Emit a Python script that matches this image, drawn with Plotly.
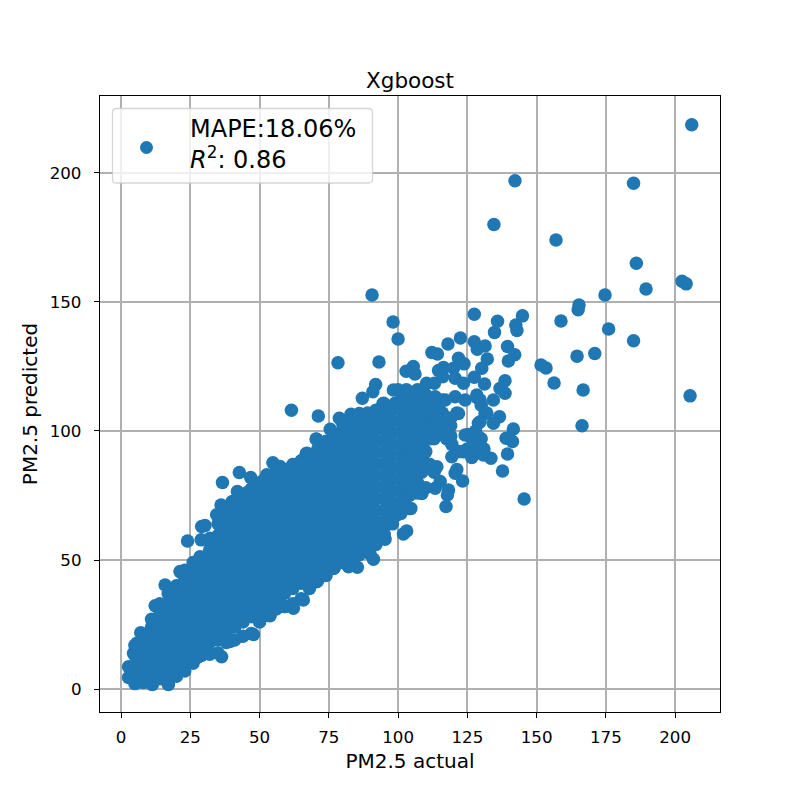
import plotly.graph_objects as go

# Isolated observations, mostly away from the dense band
sparse_actual = [
    206, 142.2, 185, 134.6, 157, 186, 189.5, 202.5, 204, 174.7, 165.3, 165, 158.8, 176, 185,
    164.6, 171, 151.6, 153.4, 156.3, 166.8, 205.4, 166.4, 145.5, 90.6, 98.2, 100, 78.3, 93.1,
    127.5, 135.9, 144.9, 142.5, 142.9, 134.8, 122.5, 118, 127.5, 128.6, 131.4, 139.5, 142.1,
    139.8, 132.2, 130.2, 127.5, 131.2, 138.6, 136.8, 138.6, 134.4, 136.6, 134.4, 141.6, 139,
    141.3, 139.5, 137.7, 133.5, 130.8, 126.6, 123.3, 120.6, 121.2, 118.2, 117.8, 117.3, 119.4,
    119.4, 121.8, 121.2, 124.2, 112.2, 114.2, 105.5, 102.9, 106.1, 121.8, 123.8, 116.4, 114.6,
    120, 116.1, 120.6, 110.3, 113.1, 123.6, 91.9, 90.9, 87.1, 94.5, 61.5, 71.2, 78.8, 75.5,
    70.6, 73.9, 67, 101.9, 103.1, 91.1, 89.9, 85.3, 82.1, 76.7, 95.3, 94.7, 104.6, 99.5, 113.4,
    115.2, 108.6, 103.1, 128.5, 130, 132, 129, 128, 126, 130, 127.5, 131, 129, 125, 122,
    113.4, 117, 120.6, 124.2, 128.4, 129.6, 108, 103, 100,
    2.7, 2.7, 5, 11.3, 17.1, 22.3, 27.5, 36.3, 39.3, 47.8, 53.8, 62.2, 65.8, 70.6, 76.7,
    7.1, 5.7, 4.5, 12.3, 15.9, 21.3, 24, 28.5, 30.3, 29.1, 28.9, 32.1, 36.6, 42.7, 46.8, 42,
    45.4, 36.1, 34.5, 40, 54.8, 61, 52.6, 67,
    98.3, 106.7, 94.8, 98.9, 131.4, 115.8, 129.6, 125.4, 129.6, 127.2, 123.6, 130.2, 114, 87.4, 91,
    80, 83, 86, 89, 92, 96, 85, 88, 70.4, 74.2, 66.8, 57.4, 50.8, 59.2, 100.7,
]
sparse_predicted = [
    218.7, 197, 196, 180, 174, 165, 155, 158, 157, 152.7, 148.8, 147, 142.6, 139.5, 135,
    129, 130, 125.6, 124.4, 118.6, 115.9, 113.6, 102, 73.6, 152.7, 142.2, 135.6, 126.4, 126.7,
    145.2, 142.5, 144.6, 141.1, 138.9, 138.2, 136, 133.7, 134.6, 131.7, 132.9, 132.7, 129.5,
    127.1, 127.9, 124.3, 120.8, 118.2, 119.5, 116.5, 114.6, 112, 105.5, 103, 100.8, 97.2,
    95.9, 91.1, 84.5, 89.4, 90.7, 89.7, 80.6, 83.6, 85.1, 77.1, 75.2, 70.7, 94.8,
    90, 106.8, 107, 98.4, 130.4, 129.8, 125, 123.1, 122.1, 128.2, 126, 124.6, 123.4,
    124.3, 121, 120.4, 118.5, 118.5, 118.5, 118, 115.2, 112.7, 110.5, 108, 105.8, 104.9, 100.7,
    96.8, 94.6, 91.4, 60.1, 61.2, 50.3, 52.3, 47.2, 47.4, 46.8, 58, 62.3, 70, 67.4, 77.8,
    80.4, 75.8, 75.2, 113, 110, 107, 103, 100, 98, 97, 95, 93, 92, 93, 92,
    113.3, 112, 113.3, 112, 113.9, 112, 113.3, 116, 116,
    8.6, 4.5, 2.1, 1.8, 1.8, 7.4, 12.2, 12.5, 18.4, 21.1, 28.4, 31.3, 34.5, 41.6, 46.8,
    21.8, 17.7, 13.9, 32.3, 40.3, 45.5, 57.4, 51.3, 63.4, 63, 57.8, 58.4, 80, 83.9, 82, 76.5,
    76.1, 71.3, 67.5, 72.6, 87.7, 85.5, 83, 90.7,
    115.9, 113.3, 110.7, 110.7, 106.8, 106.9, 103.6, 98.6, 97.2, 94.5, 91.9, 93.3, 86.1, 54.4, 57,
    103, 106.5, 106.8, 107, 108, 109, 104, 104.5, 96.9, 94.6, 91.1, 86.2, 80.4, 32, 70,
]

# Dense band: one actual value per column, with its predicted values
band_actual = [
    5, 8, 11, 14, 17, 20, 23, 26, 29, 32, 35, 38, 41, 44, 47, 50, 53, 56, 59, 62, 65, 68, 71,
    74, 77, 80, 83, 86, 89, 92, 95, 98, 101, 102.5, 104, 105.5, 107, 108.5, 110, 111.5, 113,
    114.5, 116, 117.5, 119,
]
band_predicted = [
    [4.5, 9, 13, 17],
    [2.5, 7, 11.5, 16, 20.5],
    [2, 6, 10.5, 15, 19.5, 24, 27],
    [4, 8, 12.5, 17, 21.5, 26, 30.5, 33],
    [2, 6, 10.5, 15, 19.5, 24, 28.5, 33, 37],
    [5, 9, 13.5, 18, 22.5, 27, 31.5, 36, 40],
    [7, 11, 15.5, 20, 24.5, 29, 33.5, 38, 42.5, 46],
    [10, 13, 17.5, 22, 26.5, 31, 35.5, 40, 44.5, 49],
    [13, 16, 20.5, 25, 29.5, 34, 38.5, 43, 47.5, 51],
    [13.5, 18, 22.5, 27, 31.5, 36, 40.5, 45, 49.5, 54, 58],
    [14, 19, 23.5, 28, 32.5, 37, 41.5, 46, 50.5, 55, 59.5, 64],
    [18, 21, 25.5, 30, 34.5, 39, 43.5, 48, 52.5, 57, 61.5, 66, 69],
    [19, 24, 28.5, 33, 37.5, 42, 46.5, 51, 55.5, 60, 64.5, 69, 73],
    [20.5, 26, 30.5, 35, 39.5, 44, 48.5, 53, 57.5, 62, 66.5, 71, 75],
    [21.5, 28, 32.5, 37, 41.5, 46, 50.5, 55, 59.5, 64, 68.5, 73, 77.5],
    [26, 30, 34.5, 39, 43.5, 48, 52.5, 57, 61.5, 66, 70.5, 75, 79.5],
    [28.5, 33, 37.5, 42, 46.5, 51, 55.5, 60, 64.5, 69, 73.5, 78, 82.5],
    [31, 35, 39.5, 44, 48.5, 53, 57.5, 62, 66.5, 71, 75.5, 80, 84],
    [32, 37, 41.5, 46, 50.5, 55, 59.5, 64, 68.5, 73, 77.5, 82, 85],
    [33, 39, 43.5, 48, 52.5, 57, 61.5, 66, 70.5, 75, 79.5, 84, 87],
    [35, 41, 45.5, 50, 54.5, 59, 63.5, 68, 72.5, 77, 81.5, 86, 88.5],
    [39, 43, 47.5, 52, 56.5, 61, 65.5, 70, 74.5, 79, 83.5, 88, 91],
    [42, 45, 49.5, 54, 58.5, 63, 67.5, 72, 76.5, 81, 85.5, 90, 93],
    [44, 48, 52.5, 57, 61.5, 66, 70.5, 75, 79.5, 84, 88.5, 93, 96],
    [47, 50, 54.5, 59, 63.5, 68, 72.5, 77, 81.5, 86, 90.5, 95, 98],
    [49, 52, 56.5, 61, 65.5, 70, 74.5, 79, 83.5, 88, 92.5, 97, 100.5],
    [50, 54, 58.5, 63, 67.5, 72, 76.5, 81, 85.5, 90, 94.5, 99, 103],
    [52, 56, 60.5, 65, 69.5, 74, 78.5, 83, 87.5, 92, 96.5, 101, 104.5],
    [54, 58, 62.5, 67, 71.5, 76, 80.5, 85, 89.5, 94, 98.5, 103],
    [56, 60, 64.5, 69, 73.5, 78, 82.5, 87, 91.5, 96, 100.5, 104],
    [60, 65, 69.5, 74, 78.5, 83, 87.5, 92, 96.5, 101, 105],
    [64, 68, 72.5, 77, 81.5, 86, 90.5, 95, 99.5, 104, 108],
    [68, 72, 76.5, 81, 85.5, 90, 94.5, 99, 103.5, 108, 112],
    [74, 80, 85, 90, 95, 100, 105, 110],
    [70, 75, 79.5, 84, 88.5, 93, 97.5, 102, 106.5, 111, 115],
    [76, 82, 87, 92, 97, 102, 107, 112],
    [76, 80, 84.5, 89, 93.5, 98, 102.5, 107, 111, 116],
    [78, 84, 89, 94, 99, 104, 109, 113],
    [78, 87.5, 92, 96.5, 101, 105.5, 110, 114],
    [87, 97, 102, 107, 111],
    [84, 97, 101.5, 106, 110],
    [100, 105, 109],
    [98.5, 103, 107, 112],
    [97, 101, 105],
    [98, 102, 105],
]

actual = list(sparse_actual)
predicted = list(sparse_predicted)
for column, rows in zip(band_actual, band_predicted):
    actual.extend([column] * len(rows))
    predicted.extend(rows)

x_ticks = [0, 25, 50, 75, 100, 125, 150, 175, 200]
y_ticks = [0, 50, 100, 150, 200]
BLUE = "#1f77b4"
FONT = "DejaVu Sans"

# Plot-area frame in page pixels, used to place the legend box
LEFT, RIGHT, TOP, BOTTOM = 100, 720, 96, 712


def px_x(px):
    return (px - LEFT) / (RIGHT - LEFT)


def px_y(py):
    return (BOTTOM - py) / (BOTTOM - TOP)


def rounded_box(x0, y0, x1, y1, r):
    pts = [
        ("M", x0 + r, y0), ("L", x1 - r, y0), ("Q", x1, y0, x1, y0 + r),
        ("L", x1, y1 - r), ("Q", x1, y1, x1 - r, y1), ("L", x0 + r, y1),
        ("Q", x0, y1, x0, y1 - r), ("L", x0, y0 + r), ("Q", x0, y0, x0 + r, y0),
    ]
    parts = []
    for p in pts:
        coords = p[1:]
        pairs = [
            f"{px_x(coords[i]):.5f},{px_y(coords[i + 1]):.5f}" for i in range(0, len(coords), 2)
        ]
        parts.append(p[0] + " ".join(pairs))
    return " ".join(parts) + " Z"


fig = go.Figure(
    go.Scatter(
        x=actual,
        y=predicted,
        mode="markers",
        marker=dict(color=BLUE, size=13.5, line=dict(width=0)),
        showlegend=False,
    )
)


def axis(title, ticks, rng, label_gap, title_gap):
    return dict(
        title=dict(text=title, font=dict(family=FONT, size=20, color="black"), standoff=title_gap),
        range=rng,
        tickvals=ticks,
        ticks="outside",
        ticklen=5,
        tickwidth=1.3,
        tickcolor="black",
        ticklabelstandoff=label_gap,
        tickfont=dict(family=FONT, size=16.7, color="black"),
        showgrid=True,
        gridcolor="#b0b0b0",
        gridwidth=2,
        zeroline=False,
        showline=True,
        linecolor="black",
        linewidth=1.3,
        mirror=True,
    )


fig.update_layout(
    width=800,
    height=800,
    margin=dict(l=LEFT, r=800 - RIGHT, t=TOP, b=800 - BOTTOM),
    paper_bgcolor="white",
    plot_bgcolor="white",
    title=dict(
        text="Xgboost",
        font=dict(family=FONT, size=21.5, color="black"),
        x=0.5125,
        xanchor="center",
        y=0.8995,
        yanchor="middle",
    ),
    xaxis=axis("PM2.5 actual", x_ticks, [-7.6, 216.2], 5, 7),
    yaxis=axis("PM2.5 predicted", y_ticks, [-8.9, 229.8], 9, 6),
    shapes=[
        dict(
            type="path",
            xref="paper",
            yref="paper",
            path=rounded_box(112.5, 108.5, 372.5, 183, 4),
            fillcolor="rgba(255,255,255,0.8)",
            line=dict(color="rgba(204,204,204,0.8)", width=1.3),
            layer="above",
        ),
        dict(
            type="circle",
            xref="paper",
            yref="paper",
            x0=px_x(140),
            x1=px_x(153),
            y0=px_y(154),
            y1=px_y(141),
            fillcolor=BLUE,
            line=dict(width=0),
            layer="above",
        ),
    ],
    annotations=[
        dict(
            text="MAPE:18.06%<br><i>R</i><sup>2</sup>: 0.86",
            xref="paper",
            yref="paper",
            x=px_x(188),
            y=px_y(144),
            xanchor="left",
            yanchor="middle",
            align="left",
            showarrow=False,
            font=dict(family=FONT, size=24, color="black"),
        )
    ],
)

fig.write_html("out.html")
